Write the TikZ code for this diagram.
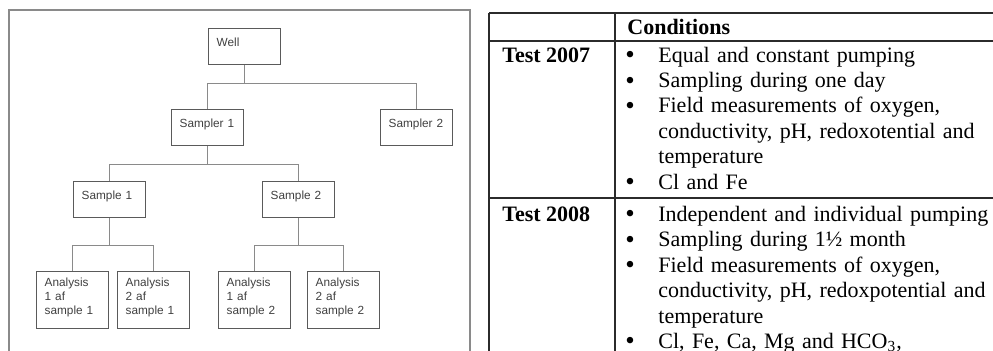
\documentclass[tikz,border=0pt]{standalone}
\usepackage{fontspec}
\setmainfont{Liberation Serif}
\newfontfamily\diagsans{Liberation Sans}
\usetikzlibrary{positioning}
\definecolor{boxline}{HTML}{5A5A5A}
\definecolor{linkc}{HTML}{8A8A8A}
\definecolor{framec}{HTML}{8A8A8A}
\definecolor{boxtext}{HTML}{404040}
\definecolor{rulec}{HTML}{2B2B2B}
\newcommand{\BoxF}{\diagsans\fontsize{5.9}{7}\selectfont}
\newcommand{\TabF}{\fontsize{11}{12.7}\selectfont}
\newcommand{\HeadF}{\fontsize{11}{12.7}\selectfont\bfseries}
\newcommand{\DotF}{\fontsize{13.5}{13.5}\selectfont}

\begin{document}
\begin{tikzpicture}[x=0.5pt, y=-0.5pt,
  box/.style={draw=boxline, line width=0.7pt, anchor=north west, inner xsep=4pt, inner ysep=0pt,
              text width=28pt, align=left, text height=9pt, text depth=9pt,
              font=\BoxF, text=boxtext},
  tallbox/.style={box, text height=7.5pt, text depth=21pt},
  link/.style={draw=linkc, line width=0.6pt},
  frame/.style={draw=framec, line width=1pt},
  rule/.style={draw=rulec, line width=0.6pt},
  dot/.style={anchor=base, inner sep=0pt, font=\DotF},
  item/.style={anchor=base west, inner sep=0pt, text width=330pt, align=left, font=\TabF},
  head/.style={anchor=base west, inner sep=0pt, font=\HeadF}]
  \useasboundingbox (0,0) rectangle (993,351);
  \fill[white] (0,0) rectangle (993,351);

  \draw[frame] (9,351) |- (470,10) -- (470,351);

  \node[box] (well) at (208,28) {Well};
  \node[box] (smp1) at (171,109) {Sampler~1};
  \node[box] (smp2) at (380,109) {Sampler~2};
  \node[box] (sa1) at (73,181) {Sample~1};
  \node[box] (sa2) at (262,181) {Sample~2};
  \node[tallbox] (an1) at (36,271) {Analysis\\1 af\\sample~1};
  \node[tallbox] (an2) at (117,271) {Analysis\\2 af\\sample~1};
  \node[tallbox] (an3) at (218,271) {Analysis\\1 af\\sample~2};
  \node[tallbox] (an4) at (307,271) {Analysis\\2 af\\sample~2};

  \draw[link] (well.south) -- ++(0,18) -| (smp1.north);
  \draw[link] (well.south) -- ++(0,18) -| (smp2.north);
  \draw[link] (smp1.south) -- ++(0,18) -| (sa1.north);
  \draw[link] (smp1.south) -- ++(0,18) -| (sa2.north);
  \draw[link] (sa1.south) -- ++(0,27) -| (an1.north);
  \draw[link] (sa1.south) -- ++(0,27) -| (an2.north);
  \draw[link] (sa2.south) -- ++(0,27) -| (an3.north);
  \draw[link] (sa2.south) -- ++(0,27) -| (an4.north);

  \draw[rule] (489,13) -- (993,13);
  \draw[rule] (489,41) -- (993,41);
  \draw[rule] (489,198) -- (993,198);
  \draw[rule] (489,13) -- (489,351);
  \draw[rule] (615,13) -- (615,351);

  \node[head] (cond) at (627,35) {Conditions};
  \node[head] (t07) at (502,62.5) {Test 2007};
  \node[head] (t08) at (502,221.5) {Test 2008};

  \foreach \i/\y/\txt in {
      1/62.5/{Equal and constant pumping},
      2/88/{Sampling during one day},
      3/113/{Field measurements of oxygen,\\conductivity, pH, redoxotential and\\temperature},
      4/189.5/{Cl and Fe},
      5/221.5/{Independent and individual pumping},
      6/247/{Sampling during 1½ month},
      7/272.5/{Field measurements of oxygen,\\conductivity, pH, redoxpotential and\\temperature},
      8/348.5/{Cl, Fe, Ca, Mg and HCO\textsubscript{3},}} {
    \node[dot] (b\i) at (630,\y+1.5) {\textbullet};
    \node[item] (c\i) at (658,\y) {\txt};
  }
\end{tikzpicture}
\end{document}
